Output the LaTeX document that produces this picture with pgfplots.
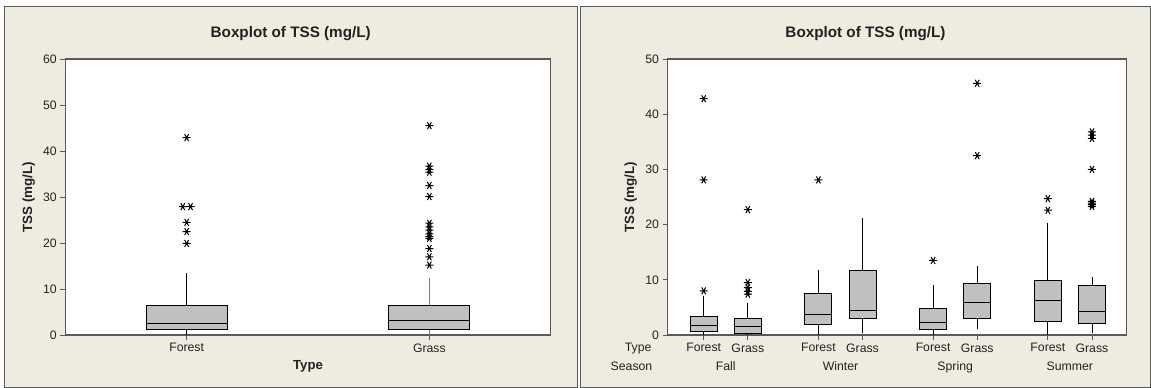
\documentclass[border=0pt]{standalone}
\usepackage{pgfplots}
\pgfplotsset{compat=1.18}
\usepgfplotslibrary{statistics}
\usepackage{fontspec}
\setmainfont{Liberation Sans}
\definecolor{panelbg}{HTML}{EEEBE1}
\definecolor{boxfill}{HTML}{C0C0C0}
\definecolor{framec}{HTML}{5A5A5A}
\definecolor{txt}{HTML}{222222}
\pgfplotsset{
  mta/.style={
    scale only axis, anchor=south west,
    axis background/.style={fill=white},
    axis line style={framec, line width=1.1bp},
    tick align=outside, major tick length=5bp,
    tick style={framec, line width=0.9bp},
    xtick pos=bottom, ytick pos=left,
    /pgf/number format/assume math mode=true,
    tick label style={font=\fontsize{12.3}{14}\selectfont, text=txt},
    xlabel style={font=\bfseries\fontsize{13.2}{15}\selectfont, text=txt, yshift=-1.5bp},
    every axis y label/.style={at={(rel axis cs:0,0.5)}, anchor=center, rotate=90, yshift=36.7bp, font=\bfseries\fontsize{13.4}{15}\selectfont, text=txt},
    ymin=0,
    boxplot/draw direction=y,
    boxplot/every box/.style={draw=black, fill=boxfill, line width=0.9bp},
    boxplot/every whisker/.style={black, line width=0.8bp},
    boxplot/every median/.style={black, line width=0.9bp},
  },
  outl/.style={only marks, mark=asterisk, mark size=4bp, mark options={rotate=90, line width=1bp, black}},
}
\begin{document}
\begin{tikzpicture}
\fill[white] (0bp,0bp) rectangle (1151bp,388bp);
\filldraw[fill=panelbg, draw=framec, line width=0.8bp] (4.5bp,1bp) rectangle (577bp,382bp);
\filldraw[fill=panelbg, draw=framec, line width=0.8bp] (580.5bp,1bp) rectangle (1150.5bp,382bp);
\node[font=\bfseries\fontsize{15.3}{18}\selectfont, text=txt] at (290.7bp,354.7bp) {Boxplot of TSS (mg/L)};
\node[font=\bfseries\fontsize{15.3}{18}\selectfont, text=txt] at (865.5bp,354.7bp) {Boxplot of TSS (mg/L)};

% Left panel
\begin{axis}[mta, at={(65.3bp,53bp)}, width=485.4bp, height=276bp,
  xmin=0.5, xmax=2.5, ymax=60, ytick={0,10,...,60},
  xtick={1,2}, xticklabels={Forest,Grass},
  xlabel={Type}, ylabel={TSS (mg/L)}]
\addplot[boxplot prepared={draw position=1, lower whisker=0, lower quartile=1.23, median=2.6, upper quartile=6.5, upper whisker=13.5, box extend=0.333, whisker extend=0}] coordinates {};
\addplot[boxplot prepared={draw position=2, lower whisker=0, lower quartile=1.23, median=3.1, upper quartile=6.5, upper whisker=12.5, box extend=0.333, whisker extend=0}, boxplot/every whisker/.style={gray, line width=0.8bp}] coordinates {};
\addplot[outl] coordinates {(1,42.9) (0.984,27.9) (1.016,27.9) (1,24.5) (1,22.5) (1,19.9)};
\addplot[outl] coordinates {(2,45.5) (2,36.7) (2,36.0) (2,35.4) (2,32.5) (2,30.1) (2,24.3) (2,23.5) (2,22.8) (2,22.0) (2,21.4) (2,21.0) (2,18.8) (2,17.0) (2,15.2)};
\end{axis}

% Right panel
\begin{axis}[mta, at={(667.5bp,53bp)}, width=459.3bp, height=276bp,
  xmin=0.18, xmax=10.59, ymax=50, ytick={0,10,...,50},
  xtick={1,2,3.6,4.6,6.2,7.2,8.8,9.8},
  xticklabels={Forest,Grass,Forest,Grass,Forest,Grass,Forest,Grass},
  extra x ticks={1.5,4.1,6.7,9.3},
  extra x tick labels={Fall,Winter,Spring,Summer},
  extra x tick style={tick style={draw=none}, xticklabel style={yshift=-18.4bp}},
  ylabel={TSS (mg/L)}]
\addplot[boxplot prepared={draw position=1, lower whisker=0, lower quartile=0.73, median=1.8, upper quartile=3.4, upper whisker=7.0, box extend=0.61, whisker extend=0}] coordinates {};
\addplot[boxplot prepared={draw position=2, lower whisker=0, lower quartile=0.3, median=1.6, upper quartile=3.0, upper whisker=5.8, box extend=0.61, whisker extend=0}] coordinates {};
\addplot[boxplot prepared={draw position=3.6, lower whisker=0, lower quartile=1.9, median=3.8, upper quartile=7.6, upper whisker=11.8, box extend=0.61, whisker extend=0}] coordinates {};
\addplot[boxplot prepared={draw position=4.6, lower whisker=0.4, lower quartile=3.0, median=4.5, upper quartile=11.7, upper whisker=21.2, box extend=0.61, whisker extend=0}] coordinates {};
\addplot[boxplot prepared={draw position=6.2, lower whisker=0, lower quartile=1.0, median=2.3, upper quartile=4.8, upper whisker=9.0, box extend=0.61, whisker extend=0}] coordinates {};
\addplot[boxplot prepared={draw position=7.2, lower whisker=1.0, lower quartile=3.0, median=5.9, upper quartile=9.4, upper whisker=12.5, box extend=0.61, whisker extend=0}] coordinates {};
\addplot[boxplot prepared={draw position=8.8, lower whisker=0, lower quartile=2.5, median=6.3, upper quartile=9.9, upper whisker=20.2, box extend=0.61, whisker extend=0}] coordinates {};
\addplot[boxplot prepared={draw position=9.8, lower whisker=0.4, lower quartile=2.1, median=4.3, upper quartile=9.0, upper whisker=10.5, box extend=0.61, whisker extend=0}] coordinates {};
\addplot[outl] coordinates {(1,42.8) (1,28.1) (1,8.0)};
\addplot[outl] coordinates {(2,22.7) (2,9.5) (2,8.6) (2,7.9) (2,7.4)};
\addplot[outl] coordinates {(3.6,28.1)};
\addplot[outl] coordinates {(6.2,13.5)};
\addplot[outl] coordinates {(7.2,45.6) (7.2,32.5)};
\addplot[outl] coordinates {(8.8,24.7) (8.8,22.6)};
\addplot[outl] coordinates {(9.8,36.8) (9.8,36.2) (9.8,35.6) (9.8,30.0) (9.8,24.2) (9.8,23.9) (9.8,23.6) (9.8,23.3)};
\end{axis}
\node[anchor=east, font=\fontsize{12.3}{14}\selectfont, text=txt] at (655bp,39.7bp) {Type};
\node[anchor=east, font=\fontsize{12.3}{14}\selectfont, text=txt] at (655.8bp,21.3bp) {Season};
\end{tikzpicture}
\end{document}
